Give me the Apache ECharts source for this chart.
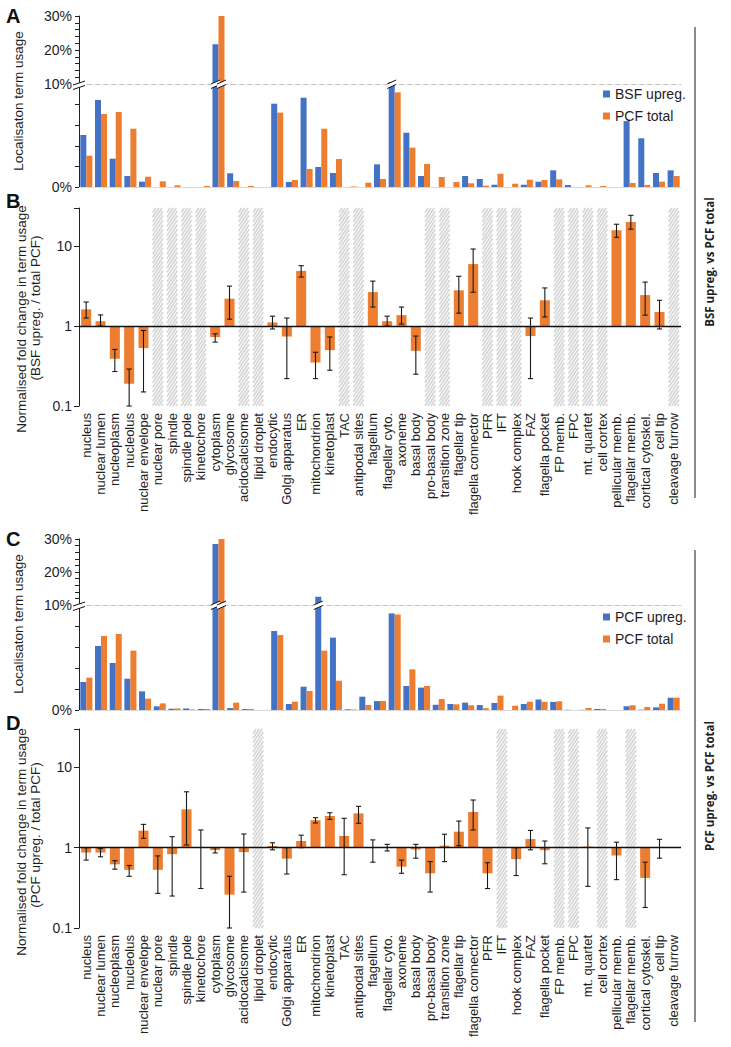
<!DOCTYPE html>
<html><head><meta charset="utf-8">
<script src="https://cdn.jsdelivr.net/npm/echarts@6/dist/echarts.min.js"></script>
<style>html,body{margin:0;padding:0;background:#fff}#c{width:731px;height:1047px}</style>
</head><body><div id="c"></div>
<script>
const categories = ['nucleus','nuclear lumen','nucleoplasm','nucleolus','nuclear envelope','nuclear pore','spindle','spindle pole','kinetochore','cytoplasm','glycosome','acidocalcisome','lipid droplet','endocytic','Golgi apparatus','ER','mitochondrion','kinetoplast','TAC','antipodal sites','flagellum','flagellar cyto.','axoneme','basal body','pro-basal body','transition zone','flagellar tip','flagella connector','PFR','IFT','hook complex','FAZ','flagella pocket','FP memb.','FPC','mt. quartet','cell cortex','pellicular memb.','flagellar memb.','cortical cytoskel.','cell tip','cleavage furrow'];
const categoriesAC = categories.slice(0, 41);

// Panel A: localisation term usage (%)
const bsfUpreg  = [5.05,8.45,2.75,1.07,0.52,0,0,0,0,21.7,1.33,0,0,8.09,0.49,8.67,1.94,1.36,0,0,2.2,10.6,5.27,1.07,0,0,1.07,0.78,0.22,0,0.22,0.52,1.62,0.19,0,0,0,6.4,4.73,1.36,1.62];
const pcfTotalA = [3.04,7.09,7.28,5.66,1.0,0.55,0.16,0,0.1,30.1,0.58,0.1,0,7.22,0.68,1.75,5.66,2.72,0.05,0.42,0.78,9.19,3.82,2.23,0.97,0.49,0.36,0.13,1.29,0.32,0.71,0.68,0.74,0,0.16,0.1,0,0.39,0.19,0.52,1.07];

// Panel C
const pcfUpreg  = [2.67,6.1,4.48,2.98,1.78,0.35,0.12,0.15,0.1,28.5,0.18,0.09,0,7.52,0.57,2.22,12.5,6.89,0.07,1.27,0.85,9.2,2.29,2.13,0.5,0.57,0.7,0.47,0.67,0,0.57,1.0,0.77,0.02,0.02,0.1,0,0.36,0.03,0.25,1.17];
const pcfTotalC = [3.08,7.05,7.24,5.65,1.08,0.63,0.15,0.05,0.1,30.1,0.7,0.1,0,7.14,0.79,1.81,5.65,2.79,0.05,0.48,0.86,9.1,3.87,2.29,1.05,0.54,0.45,0.17,1.37,0.41,0.79,0.78,0.83,0,0.19,0.1,0,0.45,0.29,0.6,1.17];

// Panel B: fold change BSF upreg / total PCF
const foldB     = [1.62,1.15,0.39,0.19,0.53,null,null,null,null,0.73,2.2,null,null,1.11,0.74,4.9,0.35,0.5,null,null,2.66,1.15,1.37,0.49,null,null,2.8,5.96,null,null,null,0.75,2.1,null,null,null,null,15.8,20,2.44,1.5,null];
const foldBLow  = [1.26,1.0,0.27,0.1,0.15,null,null,null,null,0.63,1.22,null,null,0.92,0.22,4.1,0.22,0.28,null,null,1.73,1.0,1.06,0.25,null,null,1.45,2.65,null,null,null,0.22,1.3,null,null,null,null,12.9,16.3,1.37,0.92,null];
const foldBHigh = [2.0,1.38,0.51,0.29,0.88,null,null,null,null,0.8,3.16,null,null,1.33,1.26,5.7,0.47,0.73,null,null,3.65,1.33,1.73,0.75,null,null,4.2,9.2,null,null,null,1.26,3.0,null,null,null,null,18.8,24.3,3.55,2.1,null];
const hatchB = ['nuclear pore','spindle','spindle pole','kinetochore','acidocalcisome','lipid droplet','TAC','antipodal sites','pro-basal body','transition zone','PFR','IFT','hook complex','FP memb.','FPC','mt. quartet','cell cortex','cleavage furrow'];

// Panel D: fold change PCF upreg / total PCF
const foldD     = [0.87,0.87,0.62,0.53,1.63,0.53,0.83,3.0,1.0,0.93,0.26,0.88,null,1.05,0.73,1.21,2.2,2.48,1.4,2.67,0.99,1.0,0.58,0.95,0.48,1.06,1.58,2.78,0.48,null,0.72,1.28,0.93,null,null,1.03,null,0.8,null,0.42,1.0,null];
const foldDLow  = [0.70,0.77,0.54,0.44,1.31,0.27,0.25,1.08,0.31,0.86,0.1,0.28,null,0.94,0.47,1.0,2.03,2.25,0.46,2.01,0.66,0.91,0.48,0.74,0.28,0.67,1.06,1.66,0.31,null,0.45,0.94,0.63,null,null,0.33,null,0.40,null,0.18,0.74,null];
const foldDHigh = [1.0,0.98,0.69,0.6,1.95,0.79,1.37,4.96,1.66,1.0,0.44,1.48,null,1.15,1.0,1.43,2.36,2.72,2.32,3.27,1.25,1.1,0.70,1.1,0.67,1.47,2.14,3.92,0.65,null,1.0,1.64,1.21,null,null,1.76,null,1.17,null,0.66,1.27,null];
const hatchD = ['lipid droplet','IFT','FP memb.','FPC','cell cortex','flagellar memb.'];

const upperTickLabels = ['10%','20%','30%'];
const lowerTickLabels = ['0%'];
const logTickLabels = ['0.1','1','10'];

const BLUE = '#4472C4', ORANGE = '#ED7D31';
const FONT = 'Liberation Sans, Arial, sans-serif';
const TXT = '#1e1e1e';

const L = 79, W = 602;
const chart = echarts.init(document.getElementById('c'), null, {renderer: 'svg'});

function pctFmtFrom(list) { return function (v) { const s = Math.round(v) + '%'; return list.indexOf(s) >= 0 ? s : ''; }; }
function logFmt(v) { const s = String(+v.toPrecision(6)); return logTickLabels.indexOf(s) >= 0 ? s : ''; }

function catAxis(idx, data, kind) {
  const ax = {type: 'category', gridIndex: idx, data: data, boundaryGap: true,
    axisTick: {show: false}, axisLabel: {show: false}, splitLine: {show: false}};
  if (kind === 'upper') ax.axisLine = {show: true, lineStyle: {color: '#c4c4c4', type: [5, 3], width: 1}};
  else if (kind === 'lower') ax.axisLine = {show: true, lineStyle: {color: '#d9d9d9', width: 1}};
  else {
    ax.axisLine = {show: false};
    ax.axisLabel = {show: true, interval: 0, rotate: 90, fontSize: 13, color: TXT, fontFamily: FONT, margin: 7};
  }
  return ax;
}
function pctAxis(idx, min, max, labels) {
  return {type: 'value', gridIndex: idx, min: min, max: max, interval: 2,
    axisLine: {show: true, lineStyle: {color: '#222', width: 1}},
    axisTick: {show: true, length: 4, lineStyle: {color: '#222'}},
    splitLine: {show: false},
    axisLabel: {fontSize: 14, color: TXT, fontFamily: FONT, margin: 7, formatter: pctFmtFrom(labels)}};
}
function logAxis(idx) {
  return {type: 'log', logBase: 10, gridIndex: idx, min: 0.1, max: 30,
    axisLine: {show: true, lineStyle: {color: '#222', width: 1}},
    axisTick: {show: true, length: 5, lineStyle: {color: '#222'}},
    splitLine: {show: false},
    axisLabel: {fontSize: 14, color: TXT, fontFamily: FONT, margin: 7, formatter: logFmt}};
}

function barSeries(name, data, color, g) {
  return {type: 'bar', name: name, xAxisIndex: g, yAxisIndex: g, data: data, clip: true,
    barGap: '0%', barCategoryGap: '18%', itemStyle: {color: color}, silent: true};
}
function breakRender(side) {
  return function (params, api) {
    const i = api.value(0);
    const p = api.coord([i, 10]);
    const band = api.size([1, 0])[0];
    const bw = band * 0.41;
    const cx = p[0] + side * bw / 2;
    const x0 = cx - bw / 2 - 1.5, x1 = cx + bw / 2 + 1.5, y = p[1];
    return {type: 'group', children: [
      {type: 'polygon', shape: {points: [[x0, y], [x1, y - 4], [x1, y + 0.5], [x0, y + 4.5]]}, style: {fill: '#fff'}},
      {type: 'line', shape: {x1: x0, y1: y, x2: x1, y2: y - 4}, style: {stroke: '#111', lineWidth: 1}},
      {type: 'line', shape: {x1: x0, y1: y + 4.5, x2: x1, y2: y + 0.5}, style: {stroke: '#111', lineWidth: 1}}
    ]};
  };
}
function axisBreakRender(params, api) {
  const p = api.coord([0, 10]);
  const x = params.coordSys.x, y = p[1];
  const x0 = x - 6, x1 = x + 6;
  return {type: 'group', children: [
    {type: 'polygon', shape: {points: [[x0, y + 1], [x1, y - 3], [x1, y + 1.5], [x0, y + 5.5]]}, style: {fill: '#fff'}},
    {type: 'line', shape: {x1: x0, y1: y + 1, x2: x1, y2: y - 3}, style: {stroke: '#111', lineWidth: 1}},
    {type: 'line', shape: {x1: x0, y1: y + 5.5, x2: x1, y2: y + 1.5}, style: {stroke: '#111', lineWidth: 1}}
  ]};
}
function breakSeries(values, side, g) {
  const d = [];
  values.forEach((v, i) => { if (v > 10) d.push([i, v]); });
  return {type: 'custom', xAxisIndex: g, yAxisIndex: g, data: d, renderItem: breakRender(side), z: 5, clip: false, silent: true};
}
function hatchRender(params, api) {
  const i = api.value(0);
  const c = api.coord([i, 1]);
  const band = api.size([1, 0])[0];
  const w = band * 0.72;
  const x0 = c[0] - w / 2, x1 = c[0] + w / 2;
  const cs = params.coordSys;
  const y0 = cs.y, y1 = cs.y + cs.height;
  const s = 1.5, step = 4.6;
  const ch = [];
  for (let k = y0; k <= y1 + s * w; k += step) {
    const xa = Math.max(x0, x0 + (k - y1) / s), xb = Math.min(x1, x0 + (k - y0) / s);
    if (xb <= xa) continue;
    ch.push({type: 'line', shape: {x1: xa, y1: k - s * (xa - x0), x2: xb, y2: k - s * (xb - x0)},
      style: {stroke: '#d6d6d6', lineWidth: 1.7}});
  }
  return {type: 'group', children: ch};
}
function foldRender(params, api) {
  const i = api.value(0), v = api.value(1);
  const band = api.size([1, 0])[0];
  const w = band * 0.7;
  const a = api.coord([i, 1]), b = api.coord([i, v]);
  return {type: 'rect', shape: {x: a[0] - w / 2, y: Math.min(a[1], b[1]), width: w, height: Math.abs(a[1] - b[1])},
    style: {fill: ORANGE}};
}
function errRender(params, api) {
  const i = api.value(0);
  const lo = api.coord([i, api.value(1)]), hi = api.coord([i, api.value(2)]);
  const cap = 2.6;
  const st = {stroke: '#1a1a1a', lineWidth: 1.1};
  return {type: 'group', children: [
    {type: 'line', shape: {x1: lo[0], y1: lo[1], x2: hi[0], y2: hi[1]}, style: st},
    {type: 'line', shape: {x1: lo[0] - cap, y1: lo[1], x2: lo[0] + cap, y2: lo[1]}, style: st},
    {type: 'line', shape: {x1: hi[0] - cap, y1: hi[1], x2: hi[0] + cap, y2: hi[1]}, style: st}
  ]};
}
function foldSeries(fold, lo, hi, hatch, g) {
  const hd = [], fd = [], ed = [];
  categories.forEach((c, i) => {
    if (hatch.indexOf(c) >= 0) hd.push([i, 1]);
    if (fold[i] != null) fd.push([i, fold[i]]);
    if (lo[i] != null) ed.push([i, lo[i], hi[i]]);
  });
  return [
    {type: 'custom', xAxisIndex: g, yAxisIndex: g, data: hd, renderItem: hatchRender, z: 1, silent: true, clip: false},
    {type: 'custom', xAxisIndex: g, yAxisIndex: g, data: fd, renderItem: foldRender, z: 2, silent: true,
      encode: {x: 0, y: 1},
      markLine: {silent: true, symbol: 'none', animation: false, label: {show: false},
        lineStyle: {color: '#111', width: 1.3, type: 'solid'}, data: [{yAxis: 1}]}},
    {type: 'custom', xAxisIndex: g, yAxisIndex: g, data: ed, renderItem: errRender, z: 3, silent: true,
      encode: {x: 0, y: [1, 2]}}
  ];
}

const grids = [
  {left: L, width: W, top: 16, height: 68},
  {left: L, width: W, top: 84, height: 103},
  {left: L, width: W, top: 208, height: 198},
  {left: L, width: W, top: 539, height: 66},
  {left: L, width: W, top: 605, height: 105},
  {left: L, width: W, top: 729, height: 199}
];

const series = [
  barSeries('BSF upreg.', bsfUpreg, BLUE, 0), barSeries('PCF total', pcfTotalA, ORANGE, 0),
  barSeries('BSF upreg.', bsfUpreg, BLUE, 1), barSeries('PCF total', pcfTotalA, ORANGE, 1),
  breakSeries(bsfUpreg, -1, 1), breakSeries(pcfTotalA, 1, 1),
  {type: 'custom', xAxisIndex: 1, yAxisIndex: 1, data: [[0, 10]], renderItem: axisBreakRender, z: 6, clip: false, silent: true},
  ...foldSeries(foldB, foldBLow, foldBHigh, hatchB, 2),
  barSeries('PCF upreg.', pcfUpreg, BLUE, 3), barSeries('PCF total', pcfTotalC, ORANGE, 3),
  barSeries('PCF upreg.', pcfUpreg, BLUE, 4), barSeries('PCF total', pcfTotalC, ORANGE, 4),
  breakSeries(pcfUpreg, -1, 4), breakSeries(pcfTotalC, 1, 4),
  {type: 'custom', xAxisIndex: 4, yAxisIndex: 4, data: [[0, 10]], renderItem: axisBreakRender, z: 6, clip: false, silent: true},
  ...foldSeries(foldD, foldDLow, foldDHigh, hatchD, 5)
];

function vText(text, x, y, font) {
  return {type: 'text', x: x, y: y, rotation: Math.PI / 2, silent: true,
    style: {text: text, x: 0, y: 0, align: 'center', verticalAlign: 'middle', font: font, fill: TXT}};
}
function letter(t, x, y) {
  return {type: 'text', x: x, y: y, silent: true, style: {text: t, font: 'bold 20px ' + FONT, fill: '#111', align: 'left', verticalAlign: 'top'}};
}
const legendBase = {orient: 'vertical', left: 598, itemWidth: 7, itemHeight: 7, itemGap: 6, icon: 'rect', selectedMode: false,
  textStyle: {fontSize: 14, color: TXT, fontFamily: FONT, lineHeight: 16}};
const NAME_FONT = '13.5px ' + FONT;

chart.setOption({
  animation: false,
  backgroundColor: '#fff',
  grid: grids,
  xAxis: [catAxis(0, categoriesAC, 'upper'), catAxis(1, categoriesAC, 'lower'), catAxis(2, categories, 'labels'),
          catAxis(3, categoriesAC, 'upper'), catAxis(4, categoriesAC, 'lower'), catAxis(5, categories, 'labels')],
  yAxis: [pctAxis(0, 10, 30, upperTickLabels), pctAxis(1, 0, 10, lowerTickLabels), logAxis(2),
          pctAxis(3, 10, 30, upperTickLabels), pctAxis(4, 0, 10, lowerTickLabels), logAxis(5)],
  legend: [Object.assign({}, legendBase, {top: 81, data: ['BSF upreg.', 'PCF total']}),
           Object.assign({}, legendBase, {top: 604, data: ['PCF upreg.', 'PCF total']})],
  series: series,
  graphic: [
    letter('A', 6, 6), letter('B', 6, 191), letter('C', 6, 529), letter('D', 6, 713),
    vText('Localisaton term usage', 18, 101, NAME_FONT),
    vText('Localisaton term usage', 18, 624, NAME_FONT),
    vText('Normalised fold change in term usage', 21, 319, NAME_FONT),
    vText('(BSF upreg. / total PCF)', 35, 308, NAME_FONT),
    vText('Normalised fold change in term usage', 21, 842, NAME_FONT),
    vText('(PCF upreg. / total PCF)', 35, 835, NAME_FONT),
    {type: 'line', silent: true, shape: {x1: 695, y1: 27, x2: 695, y2: 498}, style: {stroke: '#8c8c8c', lineWidth: 2}},
    {type: 'line', silent: true, shape: {x1: 695, y1: 550, x2: 695, y2: 1022}, style: {stroke: '#8c8c8c', lineWidth: 2}},
    vText('BSF upreg. vs PCF total', 709, 262, 'bold 11.5px "Open Sans", sans-serif'),
    vText('PCF upreg. vs PCF total', 709, 786, 'bold 11.5px "Open Sans", sans-serif')
  ]
});
</script></body></html>
